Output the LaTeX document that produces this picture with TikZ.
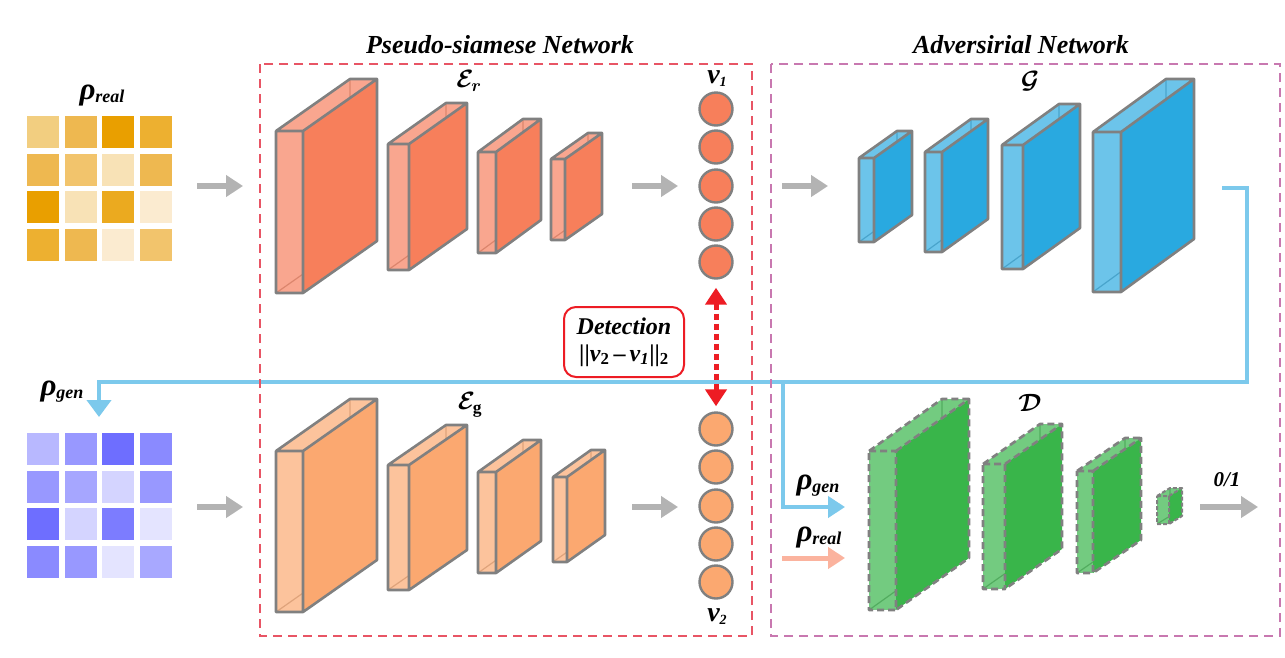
\documentclass[tikz,border=0pt]{standalone}
\usepackage{fix-cm}
\usepackage{amsmath}
\usepackage{fontspec}
\setmainfont{Liberation Serif}
\usetikzlibrary{arrows.meta}
\definecolor{erlight}{HTML}{F9A68F}
\definecolor{erdark}{HTML}{F77F5B}
\definecolor{eglight}{HTML}{FCC39C}
\definecolor{egdark}{HTML}{FBA870}
\definecolor{glight}{HTML}{6CC4EA}
\definecolor{gdark}{HTML}{29A9E0}
\definecolor{dlight}{HTML}{73CB80}
\definecolor{ddark}{HTML}{39B54A}
\definecolor{edge}{HTML}{808080}
\definecolor{arrowgray}{HTML}{B3B3B3}
\definecolor{lblue}{HTML}{7CC9EC}
\definecolor{salmon}{HTML}{FBB39E}
\definecolor{detred}{HTML}{ED1C24}
\definecolor{framered}{HTML}{E85565}
\definecolor{framepurple}{HTML}{C878B0}
% cuboid: fx0 fx1 fytop fybot dx dy light dark edgestyle
\newcommand\mycube[9]{%
  \coordinate (A) at (#1,#3);
  \coordinate (B) at (#2,#3);
  \coordinate (C) at (#2,#4);
  \coordinate (D) at (#1,#4);
  \coordinate (A1) at ([shift={(#5,#6)}]A);
  \coordinate (B1) at ([shift={(#5,#6)}]B);
  \coordinate (C1) at ([shift={(#5,#6)}]C);
  \coordinate (D1) at ([shift={(#5,#6)}]D);
  \fill[#7] (A) -- (B) -- (B1) -- (A1) -- cycle;
  \fill[#7] (A) rectangle (C);
  \draw[#8!75!black,line width=1.2pt,opacity=0.45] (D) -- (D1) -- (A1);
  \fill[#8] (B) -- (B1) -- (C1) -- (C) -- cycle;
  \draw[#9] (A) -- (B) -- (C) -- (D) -- cycle (B) -- (B1) -- (C1) -- (C) (A) -- (A1) -- (B1);
}
\newcommand\rholab[1]{{\fontsize{31}{31}\selectfont\bfseries\itshape ρ}\raisebox{-3pt}{\fontsize{18}{18}\selectfont\bfseries\itshape #1}}
\newcommand\vlab[1]{{\fontsize{28}{28}\selectfont\bfseries\itshape v}\raisebox{-3pt}{\fontsize{14}{14}\selectfont\bfseries\itshape #1}}
\newcommand\callab[1]{{\fontsize{25}{25}\selectfont\boldmath$#1$}}
\begin{document}
\begin{tikzpicture}[x=1pt,y=-1pt,
  cedge/.style={draw=edge,line width=2.6pt,line join=round},
  dedge/.style={cedge,dash pattern=on 7pt off 4pt},
  garrow/.style={draw=arrowgray,line width=6pt,-{Triangle[length=17pt,width=21pt]}},
  bline/.style={draw=lblue,line width=4pt,line join=miter},
  neuronA/.style={circle,draw=edge,line width=2.4pt,fill=erdark,minimum size=33pt,inner sep=0pt},
  neuronB/.style={neuronA,fill=egdark},
  lab/.style={inner sep=0pt},
  frameR/.style={draw=framered,line width=2pt,dash pattern=on 9pt off 6pt},
  frameP/.style={draw=framepurple,line width=2pt,dash pattern=on 9pt off 6pt},
  title/.style={inner sep=0pt,font=\fontsize{26}{26}\selectfont\bfseries\itshape}
]
\useasboundingbox (0,0) rectangle (1285,657);
\fill[white] (0,0) rectangle (1285,657);

% grids
\foreach \c [count=\i from 0] in {F2CE80,EEB850,E99F00,EDB030,EEB850,F2C46C,F8E2B6,EEB850,E99F00,F8E2B6,EBAA1F,FBEBD0,EDB030,EEB850,FBEBD0,F2C46C}{
  \definecolor{tmp}{HTML}{\c}
  \pgfmathtruncatemacro\r{\i/4}
  \pgfmathtruncatemacro\q{mod(\i,4)}
  \fill[tmp] (27+37.5*\q,116+37.5*\r) rectangle ++(32,32);
}
\foreach \c [count=\i from 0] in {B8B8FF,9898FF,6E6EFF,8A8AFF,9898FF,A6A6FF,D4D4FF,9898FF,6E6EFF,D4D4FF,7C7CFF,E4E4FF,8A8AFF,9898FF,E4E4FF,A8A8FF}{
  \definecolor{tmp}{HTML}{\c}
  \pgfmathtruncatemacro\r{\i/4}
  \pgfmathtruncatemacro\q{mod(\i,4)}
  \fill[tmp] (27+37.5*\q,433+37.5*\r) rectangle ++(32,32);
}
\node[lab] (lreal) at (102,96) {\rholab{real}};
\node[lab] (lgen) at (62,392) {\rholab{gen}};

% titles
\node[title] (t1) at (500,45) {Pseudo-siamese Network};
\node[title] (t2) at (1021,45) {Adversirial Network};

% encoders
\mycube{276}{303}{131}{293}{74}{-52}{erlight}{erdark}{cedge}
\mycube{388}{409}{144}{270}{58}{-41}{erlight}{erdark}{cedge}
\mycube{478}{496}{152}{253}{45}{-33}{erlight}{erdark}{cedge}
\mycube{551}{565}{159}{240}{37}{-26}{erlight}{erdark}{cedge}
\mycube{276}{303}{451}{612}{74}{-52}{eglight}{egdark}{cedge}
\mycube{388}{409}{465}{590}{58}{-40}{eglight}{egdark}{cedge}
\mycube{478}{496}{472}{573}{45}{-32}{eglight}{egdark}{cedge}
\mycube{553}{567}{477}{562}{38}{-27}{eglight}{egdark}{cedge}
% generator
\mycube{859}{874}{158}{242}{38}{-27}{glight}{gdark}{cedge}
\mycube{925}{942}{152}{252}{46}{-33}{glight}{gdark}{cedge}
\mycube{1002}{1023}{145}{269}{57}{-41}{glight}{gdark}{cedge}
\mycube{1093}{1121}{132}{292}{73}{-53}{glight}{gdark}{cedge}
% discriminator
\mycube{869}{896}{451}{610}{73}{-52}{dlight}{ddark}{dedge}
\mycube{983}{1005}{464}{589}{57}{-40}{dlight}{ddark}{dedge}
\mycube{1077}{1093}{471}{573}{48}{-33}{dlight}{ddark}{dedge}
\mycube{1157}{1169}{496}{524}{13}{-8}{dlight}{ddark}{cedge,line width=2pt,dash pattern=on 4pt off 2pt}

% network labels
\node[lab] (ler) at (469,81) {\callab{\mathcal{E}_r}};
\node[lab] (leg) at (470,405) {\callab{\mathcal{E}_{\mathrm{g}}}};
\node[lab] (lg) at (1030,81) {\callab{\mathcal{G}}};
\node[lab] (ld) at (1030,403) {\callab{\mathcal{D}}};

% gray arrows
\coordinate (a1s) at (197,186); \coordinate (a1e) at (243,186);
\coordinate (a2s) at (197,507); \coordinate (a2e) at (243,507);
\coordinate (a3s) at (632,186); \coordinate (a3e) at (678,186);
\coordinate (a4s) at (632,507); \coordinate (a4e) at (678,507);
\coordinate (a5s) at (782,186); \coordinate (a5e) at (828,186);
\coordinate (a6s) at (1200,507); \coordinate (a6e) at (1258,507);
\foreach \k in {1,...,6} \draw[garrow] (a\k s) -- (a\k e);

% blue feedback
\coordinate (gout) at (1222,188);
\coordinate (bc1) at (1247,188);
\coordinate (bc2) at (1247,382);
\coordinate (bc3) at (99,382);
\coordinate (gtip) at (99,417);
\coordinate (br0) at (783,380);
\coordinate (br1) at (783,507);
\coordinate (dgen) at (845,507);
\draw[bline,-{Triangle[length=17pt,width=24pt]}] (gout) -- (bc1) -- (bc2) -- (bc3) -- (gtip);
\draw[bline,-{Triangle[length=17pt,width=21pt]}] (br0) -- (br1) -- (dgen);
\coordinate (rs) at (782,558); \coordinate (re) at (845,558);
\draw[draw=salmon,line width=5pt,-{Triangle[length=17pt,width=21pt]}] (rs) -- (re);
\node[lab] (dgenl) at (818,486) {\rholab{gen}};
\node[lab] (dreal) at (819,538) {\rholab{real}};
\node[lab] (out) at (1227,480) {\fontsize{21}{21}\selectfont\bfseries\itshape 0/1};

% vectors
\foreach \k [count=\n] in {109,147,186,224,262} \node[neuronA] (va\n) at (716,\k) {};
\foreach \k [count=\n] in {429,467,506,544,582} \node[neuronB] (vb\n) at (716,\k) {};
\node[lab] (v1) at (717,79) {\vlab{1}};
\node[lab] (v2) at (717,617) {\vlab{2}};

% detection
\draw[draw=detred,line width=5pt,dash pattern=on 6pt off 4pt,
  {Triangle[length=17pt,width=21pt]}-{Triangle[length=17pt,width=21pt]}]
  ([yshift=-8pt]va5.south) -- ([yshift=5pt]vb1.north);
\node[draw=detred,line width=2pt,rounded corners=12pt,minimum width=120pt,minimum height=70pt,
  fill=white,align=center,inner sep=0pt,font=\fontsize{24}{27}\selectfont\bfseries\itshape] (det) at (624,342)
  {Detection\\
   \upshape ||\textit{v}\textsubscript{2}\,–\,\textit{v}\textsubscript{\textit{1}}||\textsubscript{2}};

% frames
\draw[frameR] (260,64) rectangle (752,636);
\draw[frameP] (771,64) rectangle (1280,636);
\end{tikzpicture}
\end{document}
